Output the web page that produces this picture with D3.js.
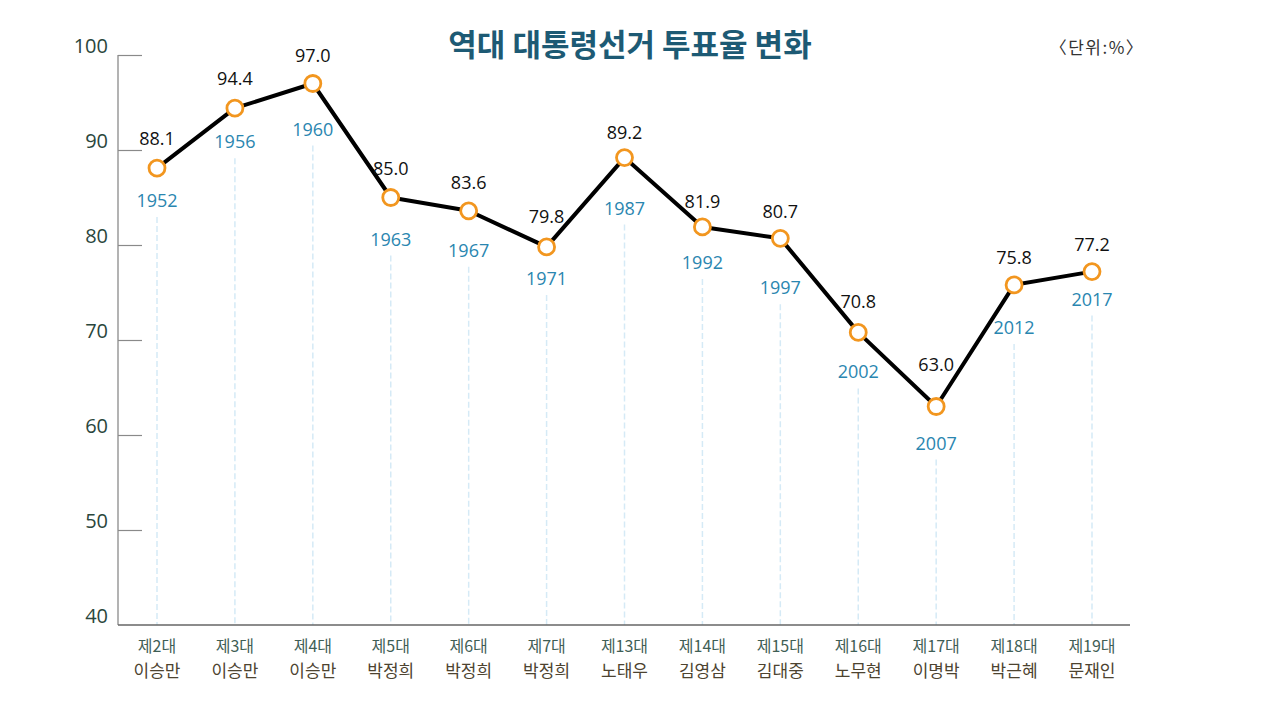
<!DOCTYPE html>
<html>
<head>
<meta charset="utf-8">
<script src="https://cdn.jsdelivr.net/npm/d3@7/dist/d3.min.js"></script>
<style>
  html, body { margin: 0; padding: 0; background: #fff; }
  svg { display: block; }
</style>
</head>
<body>
<div id="chart"></div>
<script>
// ---- data ----
const terms = ["제2대","제3대","제4대","제5대","제6대","제7대","제13대","제14대","제15대","제16대","제17대","제18대","제19대"];
const winners = ["이승만","이승만","이승만","박정희","박정희","박정희","노태우","김영삼","김대중","노무현","이명박","박근혜","문재인"];
const years = ["1952","1956","1960","1963","1967","1971","1987","1992","1997","2002","2007","2012","2017"];
const turnout = [88.1, 94.4, 97.0, 85.0, 83.6, 79.8, 89.2, 81.9, 80.7, 70.8, 63.0, 75.8, 77.2];
const yTicks = [40, 50, 60, 70, 80, 90, 100];
// label nudges (px from point) for year / value labels
const yearOffset = [32, 33, 45, 41, 39, 31, 50, 35, 49, 39, 36, 42, 27];
const valueOffset = [30, 30, 29, 30, 29, 31, 26, 26, 27, 31, 43, 28, 28];

const W = 1280, H = 720;
const margin = { left: 118 };

const svg = d3.select("#chart").append("svg")
  .attr("width", W).attr("height", H);

const x = d3.scalePoint()
  .domain(terms)
  .range([157, 1092]);

const y = d3.scaleLinear()
  .domain([40, 100])
  .range([625, 55]);

const KR = "'Noto Sans CJK KR', 'Noto Sans', sans-serif";
const NUM = "'Open Sans', 'Noto Sans', sans-serif";

// title
svg.append("text")
  .attr("x", 630).attr("y", 56)
  .attr("text-anchor", "middle")
  .attr("font-family", KR)
  .attr("font-weight", 700)
  .attr("font-size", 31)
  .attr("fill", "#1d5a74")
  .text("역대 대통령선거 투표율 변화");

svg.append("text")
  .attr("x", 1097).attr("y", 54)
  .attr("text-anchor", "middle")
  .attr("font-family", KR)
  .attr("font-size", 17)
  .attr("letter-spacing", 1.5)
  .attr("fill", "#333")
  .text("〈단위:%〉");

// vertical dashed guides
svg.append("g").selectAll("line")
  .data(terms)
  .join("line")
  .attr("x1", d => x(d)).attr("x2", d => x(d))
  .attr("y1", (d, i) => y(turnout[i]) + yearOffset[i] + 17)
  .attr("y2", y(40))
  .attr("stroke", "#d5eaf6")
  .attr("stroke-width", 1.5)
  .attr("stroke-dasharray", "6,3");

// y axis
const yAxis = d3.axisRight(y)
  .tickValues(yTicks)
  .tickSize(24)
  .tickFormat(d => d);

const gy = svg.append("g")
  .attr("transform", `translate(${margin.left},0)`)
  .call(yAxis);
gy.select(".domain").attr("stroke", "#9a9a9a").attr("stroke-width", 1.5)
  .attr("d", `M0,${y(100)}V${y(40)}`);
gy.selectAll(".tick line").attr("stroke", "#8a8a8a").attr("stroke-width", 1.2);
gy.selectAll(".tick text")
  .attr("x", -10).attr("dy", "-0.12em")
  .attr("text-anchor", "end")
  .attr("font-family", NUM)
  .attr("font-size", 20)
  .attr("fill", "#2a463c");
gy.selectAll(".tick").filter(d => d === 40).select("line").remove();

// x axis baseline
const xAxis = d3.axisBottom(x).tickSize(0).tickFormat("");
const gx = svg.append("g")
  .attr("transform", `translate(0,${y(40)})`)
  .call(xAxis);
gx.select(".domain").attr("stroke", "#666").attr("stroke-width", 1.5)
  .attr("d", `M${margin.left},0H1130`);

// x labels
const xl = svg.append("g");
xl.selectAll("text.term")
  .data(terms)
  .join("text")
  .attr("class", "term")
  .attr("x", d => x(d)).attr("y", 652)
  .attr("text-anchor", "middle")
  .attr("font-family", KR)
  .attr("font-size", 16)
  .attr("fill", "#3f5e55")
  .text(d => d);
xl.selectAll("text.name")
  .data(winners)
  .join("text")
  .attr("class", "name")
  .attr("x", (d, i) => x(terms[i])).attr("y", 677)
  .attr("text-anchor", "middle")
  .attr("font-family", KR)
  .attr("font-size", 17)
  .attr("fill", "#4d4330")
  .text(d => d);

// line
const line = d3.line()
  .x((d, i) => x(terms[i]))
  .y(d => y(d));

svg.append("path")
  .datum(turnout)
  .attr("d", line)
  .attr("fill", "none")
  .attr("stroke", "#000")
  .attr("stroke-width", 4)
  .attr("stroke-linejoin", "round");

// points
svg.append("g").selectAll("circle")
  .data(turnout)
  .join("circle")
  .attr("cx", (d, i) => x(terms[i]))
  .attr("cy", d => y(d))
  .attr("r", 8)
  .attr("fill", "#fff")
  .attr("stroke", "#f2961f")
  .attr("stroke-width", 2.8);

// value labels
svg.append("g").selectAll("text")
  .data(turnout)
  .join("text")
  .attr("x", (d, i) => x(terms[i]))
  .attr("y", (d, i) => y(d) - valueOffset[i] + 7)
  .attr("text-anchor", "middle")
  .attr("font-family", NUM)
  .attr("font-size", 18)
  .attr("fill", "#111")
  .text(d => d.toFixed(1));

// year labels
svg.append("g").selectAll("text")
  .data(years)
  .join("text")
  .attr("x", (d, i) => x(terms[i]))
  .attr("y", (d, i) => y(turnout[i]) + yearOffset[i] + 7)
  .attr("text-anchor", "middle")
  .attr("font-family", NUM)
  .attr("font-size", 18)
  .attr("fill", "#2a86b0")
  .text(d => d);
</script>
</body>
</html>
